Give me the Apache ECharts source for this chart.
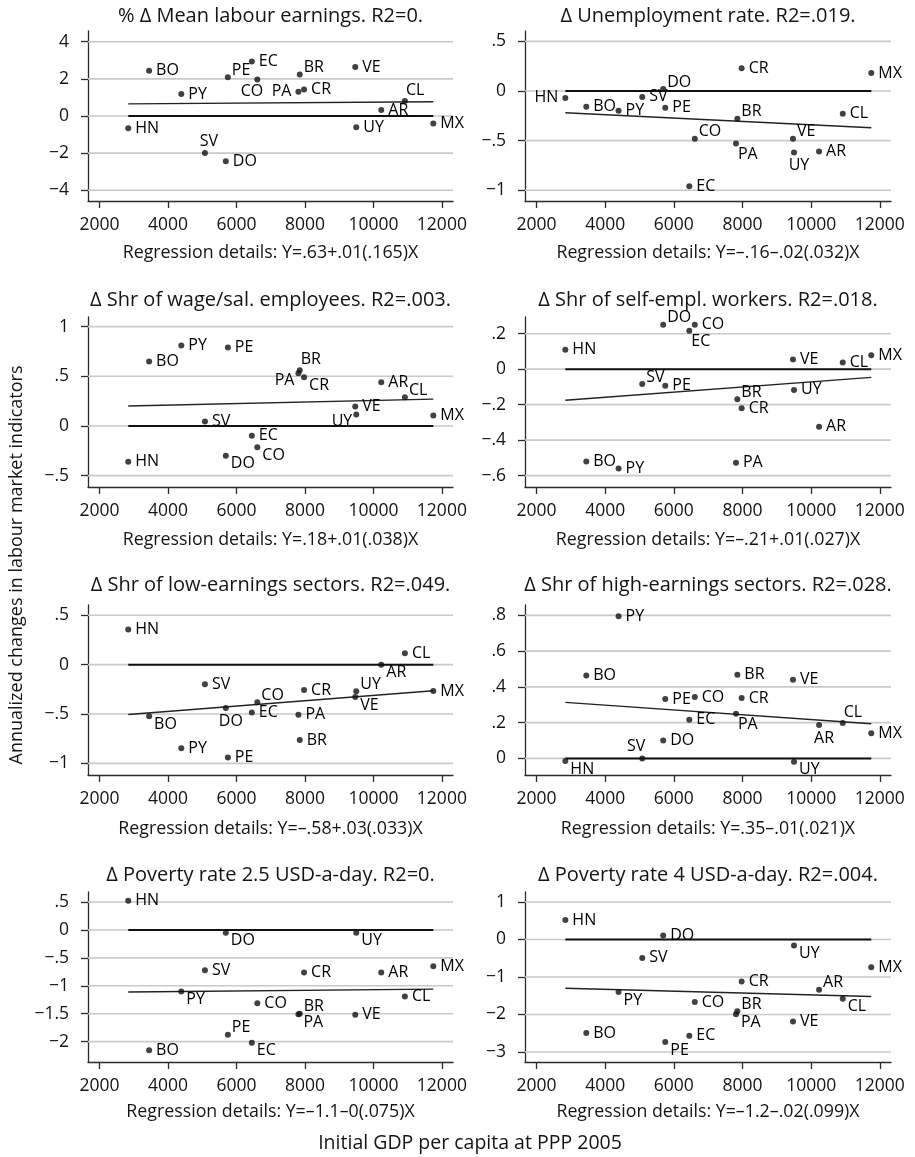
<!DOCTYPE html>
<html>
<head>
<meta charset="utf-8">
<title>Labour market indicators vs initial GDP per capita</title>
<script src="https://cdn.jsdelivr.net/npm/echarts@6/dist/echarts.min.js"></script>
<style>
  html, body { margin: 0; padding: 0; background: #fff; }
  #chart { width: 915px; height: 1157px; }
</style>
</head>
<body>
<div id="chart"></div>
<script>
// Country codes and initial GDP per capita (PPP 2005)
const countries = ['HN','BO','PY','SV','DO','PE','EC','CO','PA','BR','CR','VE','UY','AR','CL','MX'];
const gdp = [2840, 3450, 4390, 5080, 5690, 5750, 6450, 6610, 7810, 7850, 7975, 9470, 9500, 10230, 10920, 11750];

// Annualized changes, one array per indicator (same country order)
const meanEarnings   = [-0.66, 2.44, 1.18, -1.99, -2.44, 2.08, 2.94, 1.97, 1.31, 2.24, 1.42, 2.64, -0.61, 0.32, 0.81, -0.41];
const unemployment   = [-0.07, -0.16, -0.20, -0.06, 0.02, -0.17, -0.96, -0.48, -0.53, -0.28, 0.23, -0.48, -0.62, -0.61, -0.23, 0.18];
const wageEmployees  = [-0.36, 0.65, 0.81, 0.044, -0.30, 0.79, -0.10, -0.215, 0.53, 0.56, 0.49, 0.195, 0.115, 0.44, 0.29, 0.104];
const selfEmployed   = [0.11, -0.52, -0.56, -0.084, 0.25, -0.093, 0.217, 0.25, -0.527, -0.17, -0.22, 0.055, -0.117, -0.324, 0.037, 0.078];
const lowEarnSectors = [0.355, -0.524, -0.848, -0.20, -0.44, -0.94, -0.486, -0.38, -0.507, -0.764, -0.257, -0.328, -0.27, 0.0, 0.115, -0.267];
const highEarnSectors= [-0.015, 0.463, 0.795, 0.0, 0.10, 0.332, 0.216, 0.343, 0.25, 0.468, 0.338, 0.44, -0.019, 0.187, 0.198, 0.14];
const poverty25      = [0.524, -2.155, -1.10, -0.72, -0.05, -1.875, -2.02, -1.31, -1.51, -1.50, -0.762, -1.52, -0.05, -0.762, -1.19, -0.65];
const poverty4       = [0.517, -2.495, -1.40, -0.49, 0.107, -2.735, -2.565, -1.67, -1.996, -1.915, -1.12, -2.19, -0.16, -1.34, -1.58, -0.74];

// Fitted line values at the lowest and highest GDP
const fitAtMin = [0.65, -0.22, 0.20, -0.175, -0.505, 0.313, -1.11, -1.30];
const fitAtMax = [0.77, -0.37, 0.27, -0.046, -0.264, 0.194, -1.06, -1.52];

const panelTitles = [
  '% \u0394 Mean labour earnings. R2=0.',
  '\u0394 Unemployment rate. R2=.019.',
  '\u0394 Shr of wage/sal. employees. R2=.003.',
  '\u0394 Shr of self-empl. workers. R2=.018.',
  '\u0394 Shr of low-earnings sectors. R2=.049.',
  '\u0394 Shr of high-earnings sectors. R2=.028.',
  '\u0394 Poverty rate 2.5 USD-a-day. R2=0.',
  '\u0394 Poverty rate 4 USD-a-day. R2=.004.'
];
const regressionNotes = [
  'Regression details: Y=.63+.01(.165)X',
  'Regression details: Y=\u2013.16\u2013.02(.032)X',
  'Regression details: Y=.18+.01(.038)X',
  'Regression details: Y=\u2013.21+.01(.027)X',
  'Regression details: Y=\u2013.58+.03(.033)X',
  'Regression details: Y=.35\u2013.01(.021)X',
  'Regression details: Y=\u20131.1\u20130(.075)X',
  'Regression details: Y=\u20131.2\u2013.02(.099)X'
];

// Tick values
const xTicks = [2000, 4000, 6000, 8000, 10000, 12000];
const yTicks = [
  [-4, -2, 0, 2, 4],
  [-1, -0.5, 0, 0.5],
  [-0.5, 0, 0.5, 1],
  [-0.6, -0.4, -0.2, 0, 0.2],
  [-1, -0.5, 0, 0.5],
  [0, 0.2, 0.4, 0.6, 0.8],
  [-2, -1.5, -1, -0.5, 0, 0.5],
  [-3, -2, -1, 0, 1]
];

const indicators = [meanEarnings, unemployment, wageEmployees, selfEmployed,
                    lowEarnSectors, highEarnSectors, poverty25, poverty4];

// ---- layout and styling ----
const FONT = "'Open Sans', 'DejaVu Sans', sans-serif";
const INK = '#141414';
const colLeft = [88, 525];
const colWidth = [365, 366];
const rowTop = [31, 317, 605, 892];
const rowHeight = 170;
const titleY = [16, 300, 585, 875];
const noteY = [253, 540, 829, 1112];
const xRange = [1665, 12325];
const yRanges = [
  [-4.575, 4.575], [-1.108, 0.604], [-0.615, 1.097], [-0.664, 0.294],
  [-1.118, 0.604], [-0.093, 0.858], [-2.364, 0.68], [-3.267, 1.267]
];

// Marker label placement, as clock positions (same country order)
const labelClock = [
  [3,3,3,12,3,2,3,7,9,2,3,3,3,3,1,3],
  [9,3,3,3,2,3,3,2,5,2,3,2,6,3,3,3],
  [3,3,3,3,4,3,3,4,8,1,4,3,8,3,2,3],
  [3,3,3,2,2,3,5,3,3,2,3,3,3,3,3,3],
  [3,4,3,3,6,3,3,2,3,3,3,4,2,4,3,3],
  [4,3,3,11,3,3,3,3,5,3,3,3,4,6,1,3],
  [3,3,4,3,4,2,4,3,4,2,3,3,4,3,3,3],
  [3,3,4,3,3,4,3,3,4,2,3,3,4,2,4,3]
];
const clockStyle = {
  1:  { align: 'left',   offset: [1, -11] },
  2:  { align: 'left',   offset: [4, -7] },
  3:  { align: 'left',   offset: [7, 0] },
  4:  { align: 'left',   offset: [5, 8] },
  5:  { align: 'left',   offset: [2, 11] },
  6:  { align: 'center', offset: [5, 13] },
  7:  { align: 'right',  offset: [6, 12] },
  8:  { align: 'right',  offset: [-4, 7] },
  9:  { align: 'right',  offset: [-7, 0] },
  11: { align: 'right',  offset: [3, -12] },
  12: { align: 'center', offset: [4, -12] }
};

function fmtTick(v) {
  if (v === 0) return '0';
  let s = String(Math.abs(v)).replace(/^0\./, '.');
  return (v < 0 ? '\u2212' : '') + s;
}

const grids = [], xAxes = [], yAxes = [], series = [], graphics = [];
const xMin = Math.min(...gdp), xMax = Math.max(...gdp);
const tickStyle = { color: '#2a2a2a', width: 1.3 };

indicators.forEach((vals, p) => {
  const col = p % 2, row = Math.floor(p / 2);
  grids.push({ left: colLeft[col], top: rowTop[row], width: colWidth[col], height: rowHeight });
  xAxes.push({
    gridIndex: p, type: 'value', min: xRange[0], max: xRange[1],
    axisLine: { show: true, onZero: false, lineStyle: tickStyle },
    axisTick: { show: true, customValues: xTicks, length: 7, lineStyle: tickStyle },
    axisLabel: { customValues: xTicks, margin: 15, color: INK, fontFamily: FONT, fontSize: 17.5,
                 formatter: v => String(v) },
    splitLine: { show: false }
  });
  yAxes.push({
    gridIndex: p, type: 'value', min: yRanges[p][0], max: yRanges[p][1],
    axisLine: { show: true, onZero: false, lineStyle: tickStyle },
    axisTick: { show: true, customValues: yTicks[p], length: 7, lineStyle: tickStyle },
    axisLabel: { customValues: yTicks[p], margin: 19, color: INK, fontFamily: FONT, fontSize: 17.5,
                 formatter: fmtTick },
    splitLine: { show: false }
  });

  // gridlines at each y tick, across the full axis width
  yTicks[p].forEach(v => {
    series.push({
      type: 'line', xAxisIndex: p, yAxisIndex: p, z: 1, silent: true,
      symbol: 'none', animation: false,
      lineStyle: { color: '#c9c9c9', width: 1.6 },
      data: [[xRange[0], v], [xRange[1], v]]
    });
  });
  // zero reference across the data span
  series.push({
    type: 'line', xAxisIndex: p, yAxisIndex: p, z: 2, silent: true,
    symbol: 'none', animation: false,
    lineStyle: { color: '#111', width: 2 },
    data: [[xMin, 0], [xMax, 0]]
  });
  // fitted line
  series.push({
    type: 'line', xAxisIndex: p, yAxisIndex: p, z: 3, silent: true,
    symbol: 'none', animation: false,
    lineStyle: { color: '#222', width: 1.4 },
    data: [[xMin, fitAtMin[p]], [xMax, fitAtMax[p]]]
  });
  // country markers with labels
  series.push({
    type: 'scatter', xAxisIndex: p, yAxisIndex: p, z: 4, animation: false,
    symbol: 'circle', symbolSize: 6,
    itemStyle: { color: '#111' },
    data: vals.map((v, i) => {
      const cs = clockStyle[labelClock[p][i]];
      return {
        value: [gdp[i], v],
        label: {
          show: true, position: 'inside', formatter: countries[i],
          align: cs.align, verticalAlign: 'middle', offset: cs.offset,
          color: '#000', opacity: 1, textBorderWidth: 0, textBorderColor: 'transparent',
          fontFamily: FONT, fontSize: 16
        }
      };
    })
  });

  const cx = colLeft[col] + colWidth[col] / 2;
  graphics.push({
    type: 'text', x: cx, y: titleY[row], silent: true,
    style: { text: panelTitles[p], fill: INK, font: '20px ' + FONT, align: 'center', verticalAlign: 'middle' }
  });
  graphics.push({
    type: 'text', x: cx, y: noteY[row], silent: true,
    style: { text: regressionNotes[p], fill: INK, font: '17.8px ' + FONT, align: 'center', verticalAlign: 'middle' }
  });
});

graphics.push({
  type: 'text', x: 470, y: 1143, silent: true,
  style: { text: 'Initial GDP per capita at PPP 2005', fill: INK, font: '19.5px ' + FONT, align: 'center', verticalAlign: 'middle' }
});
graphics.push({
  type: 'text', x: 17, y: 565, rotation: Math.PI / 2, silent: true,
  style: { text: 'Annualized changes in labour market indicators', fill: INK, font: '18px ' + FONT, align: 'center', verticalAlign: 'middle' }
});

const chart = echarts.init(document.getElementById('chart'), null, { renderer: 'canvas' });
chart.setOption({
  backgroundColor: '#fff',
  animation: false,
  grid: grids,
  xAxis: xAxes,
  yAxis: yAxes,
  series: series,
  graphic: graphics
});
</script>
</body>
</html>
